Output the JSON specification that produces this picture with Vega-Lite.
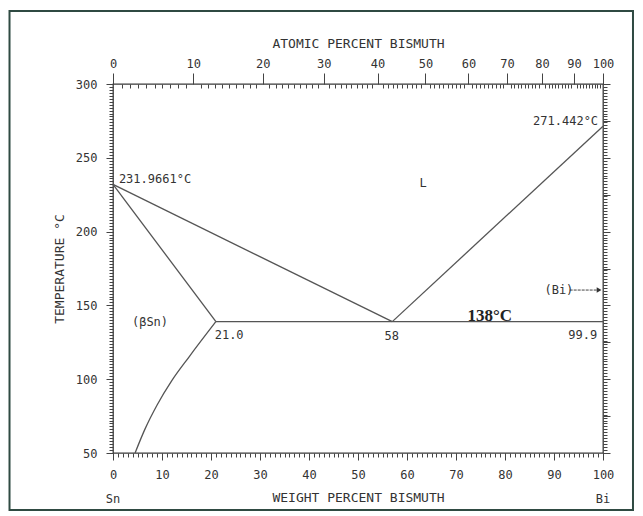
{
  "$schema": "https://vega.github.io/schema/vega-lite/v6.json",
  "width": 490,
  "height": 369,
  "autosize": "none",
  "padding": {"left": 113, "top": 84, "right": 40, "bottom": 63},
  "background": "white",
  "config": {
    "view": {"stroke": "#3a3a3a", "strokeWidth": 1.3},
    "axis": {
      "grid": false,
      "domain": false,
      "labelFont": "DejaVu Sans Mono",
      "titleFont": "DejaVu Sans Mono",
      "labelFontSize": 12,
      "titleFontSize": 13,
      "titleFontWeight": "normal",
      "labelColor": "#333333",
      "titleColor": "#333333",
      "tickColor": "#444444",
      "tickWidth": 1,
      "labelFlush": false,
      "labelOverlap": false
    }
  },
  "datasets": {
    "curves": [
      {"seg": "liquidus Sn", "i": 0, "w": 0, "T": 231.97},
      {"seg": "liquidus Sn", "i": 1, "w": 57, "T": 139},
      {"seg": "liquidus Bi", "i": 0, "w": 57, "T": 139},
      {"seg": "liquidus Bi", "i": 1, "w": 100, "T": 271.44},
      {"seg": "solidus", "i": 0, "w": 0, "T": 231.97},
      {"seg": "solidus", "i": 1, "w": 21, "T": 139},
      {"seg": "eutectic", "i": 0, "w": 21, "T": 139},
      {"seg": "eutectic", "i": 1, "w": 100, "T": 139},
      {"seg": "solvus", "i": 0, "w": 4.5, "T": 50},
      {"seg": "solvus", "i": 1, "w": 6.5, "T": 66},
      {"seg": "solvus", "i": 2, "w": 9, "T": 82.5},
      {"seg": "solvus", "i": 3, "w": 12, "T": 99},
      {"seg": "solvus", "i": 4, "w": 15.5, "T": 115},
      {"seg": "solvus", "i": 5, "w": 21, "T": 139}
    ],
    "frame": [
      {"x1": -21.12, "x2": 106.12, "y1": 349.46, "y2": 11.38}
    ],
    "labels": [
      {"kind": "left", "w": 1.2, "T": 235.6, "text": "231.9661°C"},
      {"kind": "right", "w": 99, "T": 274.9, "text": "271.442°C"},
      {"kind": "right", "w": 98.8, "T": 129.8, "text": "99.9"},
      {"kind": "center", "w": 63.3, "T": 232.9, "text": "L"},
      {"kind": "center", "w": 7.55, "T": 138.8, "text": "(βSn)"},
      {"kind": "center", "w": 23.7, "T": 129.8, "text": "21.0"},
      {"kind": "center", "w": 56.9, "T": 129.1, "text": "58"},
      {"kind": "center", "w": 91.0, "T": 160.4, "text": "(Bi)"},
      {"kind": "center", "w": 0, "T": 18.8, "text": "Sn"},
      {"kind": "center", "w": 100, "T": 18.8, "text": "Bi"},
      {"kind": "bold", "w": 76.9, "T": 142.7, "text": "138°C"}
    ],
    "arrow": [
      {"w": 93.2, "w2": 99.2, "T": 160.4}
    ]
  },
  "layer": [
    {
      "data": {"name": "frame"},
      "mark": {"type": "rect", "fill": null, "fillOpacity": 0, "stroke": "#2f4a42", "strokeWidth": 2},
      "encoding": {
        "x": {"field": "x1", "type": "quantitative", "scale": {"domain": [0, 100], "nice": false, "zero": false}, "axis": null},
        "x2": {"field": "x2"},
        "y": {"field": "y1", "type": "quantitative", "scale": {"domain": [50, 300], "nice": false, "zero": false}, "axis": null},
        "y2": {"field": "y2"}
      }
    },
    {
      "data": {"name": "curves"},
      "mark": {"type": "line", "color": "#555555", "strokeWidth": 1.3, "interpolate": "monotone"},
      "encoding": {
        "x": {"field": "w", "type": "quantitative", "scale": {"domain": [0, 100], "nice": false, "zero": false},
          "axis": {"orient": "bottom", "values": [0, 10, 20, 30, 40, 50, 60, 70, 80, 90, 100], "tickSize": 7, "labelPadding": 9, "title": "WEIGHT PERCENT BISMUTH", "titlePadding": 11}},
        "y": {"field": "T", "type": "quantitative", "scale": {"domain": [50, 300], "nice": false, "zero": false},
          "axis": {"orient": "left", "values": [50, 100, 150, 200, 250, 300], "tickSize": 7, "labelPadding": 9, "title": "TEMPERATURE °C", "titlePadding": 9}},
        "detail": {"field": "seg"},
        "order": {"field": "i"}
      }
    },
    {
      "data": {"name": "curves"},
      "mark": {"type": "point", "opacity": 0},
      "encoding": {
        "x": {"field": "w", "type": "quantitative", "scale": {"domain": [0, 100], "nice": false, "zero": false},
          "axis": {"orient": "bottom", "tickCount": 100, "labels": false, "tickSize": 4, "title": null}},
        "y": {"field": "T", "type": "quantitative", "scale": {"domain": [50, 300], "nice": false, "zero": false},
          "axis": {"orient": "left", "tickCount": 125, "labels": false, "tickSize": 4, "title": null}}
      }
    },
    {
      "data": {"name": "curves"},
      "mark": {"type": "point", "opacity": 0},
      "encoding": {
        "x": {"field": "w", "type": "quantitative", "scale": {"domain": [0, 100], "nice": false, "zero": false},
          "axis": {"orient": "top", "values": [0, 16.36, 30.56, 43.0, 53.99, 63.77, 72.53, 80.42, 87.56, 94.06, 100], "labelExpr": "round(100 * (datum.value / 208.98) / ((datum.value / 208.98) + ((100 - datum.value) / 118.71)))", "tickSize": 11, "labelPadding": 3, "title": "ATOMIC PERCENT BISMUTH", "titlePadding": 7}},
        "y": {"field": "T", "type": "quantitative", "scale": {"domain": [50, 300], "nice": false, "zero": false},
          "axis": {"orient": "right", "values": [50, 75, 100, 125, 150, 175, 200, 225, 250, 275, 300], "labels": false, "tickSize": 7, "title": null}}
      }
    },
    {
      "data": {"name": "curves"},
      "mark": {"type": "point", "opacity": 0},
      "encoding": {
        "x": {"field": "w", "type": "quantitative", "scale": {"domain": [0, 100], "nice": false, "zero": false},
          "axis": {"orient": "top", "values": [1.75, 3.47, 5.16, 6.83, 8.48, 10.10, 11.70, 13.28, 14.83, 17.87, 19.36, 20.83, 22.27, 23.70, 25.11, 26.50, 27.87, 29.23, 31.88, 33.18, 34.46, 35.73, 36.98, 38.22, 39.44, 40.64, 41.83, 44.16, 45.31, 46.44, 47.56, 48.66, 49.75, 50.83, 51.90, 52.95, 55.02, 56.04, 57.05, 58.04, 59.02, 59.99, 60.95, 61.90, 62.84, 64.69, 65.60, 66.50, 67.39, 68.27, 69.14, 70.00, 70.85, 71.70, 73.36, 74.18, 74.98, 75.78, 76.58, 77.36, 78.14, 78.91, 79.67, 81.17, 81.91, 82.64, 83.36, 84.08, 84.79, 85.49, 86.19, 86.88, 88.24, 88.91, 89.58, 90.24, 90.89, 91.54, 92.18, 92.81, 93.44, 94.68, 95.29, 95.90, 96.50, 97.10, 97.69, 98.27, 98.85, 99.43], "labels": false, "tickSize": -4, "title": null}},
        "y": {"field": "T", "type": "quantitative", "scale": {"domain": [50, 300], "nice": false, "zero": false},
          "axis": {"orient": "right", "tickCount": 125, "labels": false, "tickSize": 4, "title": null}}
      }
    },
    {
      "data": {"name": "arrow"},
      "mark": {"type": "rule", "color": "#444444", "strokeWidth": 1, "strokeDash": [3, 1]},
      "encoding": {
        "x": {"field": "w", "type": "quantitative", "scale": {"domain": [0, 100], "nice": false, "zero": false}, "axis": null},
        "x2": {"field": "w2"},
        "y": {"field": "T", "type": "quantitative", "scale": {"domain": [50, 300], "nice": false, "zero": false}, "axis": null}
      }
    },
    {
      "data": {"name": "arrow"},
      "mark": {"type": "point", "shape": "triangle-right", "filled": true, "color": "#333333", "size": 30, "opacity": 1},
      "encoding": {
        "x": {"field": "w2", "type": "quantitative", "scale": {"domain": [0, 100], "nice": false, "zero": false}, "axis": null},
        "y": {"field": "T", "type": "quantitative", "scale": {"domain": [50, 300], "nice": false, "zero": false}, "axis": null}
      }
    },
    {
      "data": {"name": "labels"},
      "transform": [{"filter": "datum.kind === 'left'"}],
      "mark": {"type": "text", "align": "left", "baseline": "middle", "font": "DejaVu Sans Mono", "fontSize": 12, "color": "#333333"},
      "encoding": {
        "x": {"field": "w", "type": "quantitative", "scale": {"domain": [0, 100], "nice": false, "zero": false}, "axis": null},
        "y": {"field": "T", "type": "quantitative", "scale": {"domain": [50, 300], "nice": false, "zero": false}, "axis": null},
        "text": {"field": "text"}
      }
    },
    {
      "data": {"name": "labels"},
      "transform": [{"filter": "datum.kind === 'right'"}],
      "mark": {"type": "text", "align": "right", "baseline": "middle", "font": "DejaVu Sans Mono", "fontSize": 12, "color": "#333333"},
      "encoding": {
        "x": {"field": "w", "type": "quantitative", "scale": {"domain": [0, 100], "nice": false, "zero": false}, "axis": null},
        "y": {"field": "T", "type": "quantitative", "scale": {"domain": [50, 300], "nice": false, "zero": false}, "axis": null},
        "text": {"field": "text"}
      }
    },
    {
      "data": {"name": "labels"},
      "transform": [{"filter": "datum.kind === 'center'"}],
      "mark": {"type": "text", "align": "center", "baseline": "middle", "font": "DejaVu Sans Mono", "fontSize": 12, "color": "#333333"},
      "encoding": {
        "x": {"field": "w", "type": "quantitative", "scale": {"domain": [0, 100], "nice": false, "zero": false}, "axis": null},
        "y": {"field": "T", "type": "quantitative", "scale": {"domain": [50, 300], "nice": false, "zero": false}, "axis": null},
        "text": {"field": "text"}
      }
    },
    {
      "data": {"name": "labels"},
      "transform": [{"filter": "datum.kind === 'bold'"}],
      "mark": {"type": "text", "align": "center", "baseline": "middle", "font": "Liberation Serif", "fontWeight": "bold", "fontSize": 17, "color": "#222222"},
      "encoding": {
        "x": {"field": "w", "type": "quantitative", "scale": {"domain": [0, 100], "nice": false, "zero": false}, "axis": null},
        "y": {"field": "T", "type": "quantitative", "scale": {"domain": [50, 300], "nice": false, "zero": false}, "axis": null},
        "text": {"field": "text"}
      }
    }
  ],
  "resolve": {"axis": {"x": "independent", "y": "independent"}}
}
